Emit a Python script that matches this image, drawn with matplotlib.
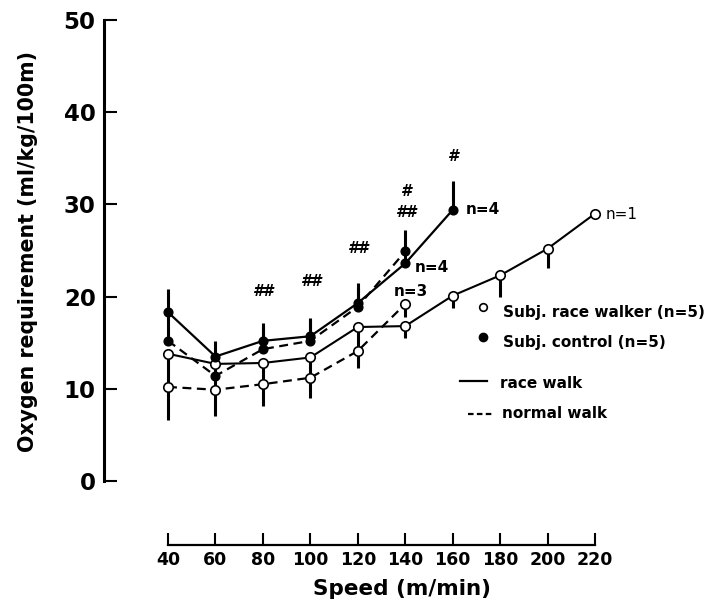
import matplotlib
matplotlib.use("Agg")
import matplotlib.pyplot as plt
from matplotlib.lines import Line2D

plt.rcParams['font.family'] = ['DejaVu Sans']
plt.rcParams['font.weight'] = 'bold'

speed = [40, 60, 80, 100, 120, 140, 160, 180, 200, 220]

# race walkers, race walk (open circles, solid line), bars go down
walker_race = [13.8, 12.7, 12.8, 13.4, 16.7, 16.8, 20.1, 22.3, 25.2, 29.0]
walker_race_sd = [3.6, 2.9, 2.3, 2.2, 2.6, 1.3, 1.3, 2.3, 2.1, 0.0]
# race walkers, normal walk (open circles, dashed line)
walker_normal = [10.2, 9.9, 10.5, 11.2, 14.1, 19.2]
walker_normal_sd = [3.6, 2.9, 2.4, 2.2, 1.8, 1.4]
# controls, race walk (filled, solid), bars go up
control_race = [18.3, 13.5, 15.2, 15.7, 19.3, 23.6, 29.4]
control_race_sd = [2.5, 1.7, 1.9, 2.0, 2.2, 2.0, 3.1]
# controls, normal walk (filled, dashed)
control_normal = [15.2, 11.4, 14.3, 15.2, 18.9, 24.9]
control_normal_sd = [3.1, 1.5, 2.3, 2.3, 2.0, 2.3]

# significance marks
hash_x = [80, 100, 120, 140, 140, 160]
hash_y = [20.6, 21.6, 25.2, 29.1, 31.4, 35.2]
hash_txt = ['##', '##', '##', '##', '#', '#']

# n labels
n_x = [165.6, 144.1, 135.3, 224.6]
n_y = [29.4, 23.2, 20.5, 28.9]
n_txt = ['n=4', 'n=4', 'n=3', 'n=1']

W, H = 714, 606
fig = plt.figure(figsize=(W / 100, H / 100), dpi=100)
ax = fig.add_axes([104 / W, (H - 545) / H, 596 / W, 530 / H])


def fpx(x, y):
    return x / W, 1 - y / H


dash = (0, (4, 2.5))

# error bars
n = len(walker_race)
ax.vlines(speed[:n], [v - e for v, e in zip(walker_race, walker_race_sd)], walker_race,
          color='black', lw=2.2, zorder=2)
n = len(walker_normal)
ax.vlines(speed[:n], [v - e for v, e in zip(walker_normal, walker_normal_sd)], walker_normal,
          color='black', lw=2.2, zorder=2)
n = len(control_race)
ax.vlines(speed[:n], control_race, [v + e for v, e in zip(control_race, control_race_sd)],
          color='black', lw=2.2, zorder=2)
n = len(control_normal)
ax.vlines(speed[:n], control_normal, [v + e for v, e in zip(control_normal, control_normal_sd)],
          color='black', lw=2.2, zorder=2)

# lines
ax.plot(speed[:len(walker_race)], walker_race, color='black', lw=1.5,
        marker='o', ms=6.8, mfc='white', mec='black', mew=1.2, zorder=3)
ax.plot(speed[:len(walker_normal)], walker_normal, color='black', lw=1.6, ls=dash,
        marker='o', ms=6.8, mfc='white', mec='black', mew=1.2, zorder=3)
ax.plot(speed[:len(control_race)], control_race, color='black', lw=1.6,
        marker='o', ms=6.3, mfc='black', mec='black', zorder=4)
ax.plot(speed[:len(control_normal)], control_normal, color='black', lw=1.6, ls=dash,
        marker='o', ms=6.3, mfc='black', mec='black', zorder=4)

for x, y, t in zip(hash_x, hash_y, hash_txt):
    ax.text(x, y, t, ha='center', va='center', fontsize=11, fontstyle='oblique',
            fontweight='bold')

for x, y, t in zip(n_x, n_y, n_txt):
    ax.text(x, y, t, ha='left', va='center', fontsize=11,
            fontweight='normal' if t == 'n=1' else 'bold')

ax.set_xlim(13, 13 + 596 / 2.372)
ax.set_ylim(-(545 - 481) / 9.22, 50 + 5 / 9.22)

for s in ['top', 'right']:
    ax.spines[s].set_visible(False)
ax.spines['left'].set_bounds(0, 50)
ax.spines['left'].set_linewidth(2.2)
ax.spines['bottom'].set_bounds(40, 220)
ax.spines['bottom'].set_linewidth(1.6)

ax.set_xticks(speed)
ax.set_yticks([0, 10, 20, 30, 40, 50])
ax.tick_params(axis='y', direction='in', length=9, width=1.5, pad=6, labelsize=16.5)
ax.tick_params(axis='x', direction='in', length=9, width=1.5, pad=4, labelsize=12.5)

ax.set_xlabel('Speed (m/min)', fontsize=15.5, fontweight='bold')
ax.xaxis.set_label_coords((402 - 104) / 596, (545 - 579) / 530)
ax.set_ylabel('Oxygen requirement (ml/kg/100m)', fontsize=14.8, fontweight='bold')
ax.yaxis.set_label_coords((38 - 104) / 596, (545 - 252) / 530)

# legend
fig.add_artist(Line2D(*zip(fpx(483, 307)), marker='o', ms=5.5, mfc='white', mec='black',
                      mew=1.2, ls='none', transform=fig.transFigure))
fig.text(*fpx(503, 313), 'Subj. race walker (n=5)', fontsize=11, va='center', ha='left')
fig.add_artist(Line2D(*zip(fpx(483, 337)), marker='o', ms=6, mfc='black', mec='black',
                      ls='none', transform=fig.transFigure))
fig.text(*fpx(503, 343), 'Subj. control (n=5)', fontsize=11, va='center', ha='left')
fig.add_artist(Line2D(*zip(fpx(460, 381), fpx(487, 381)), color='black', lw=1.6,
                      transform=fig.transFigure))
fig.text(*fpx(500, 384), 'race walk', fontsize=11, va='center', ha='left')
fig.add_artist(Line2D(*zip(fpx(468, 414), fpx(493, 414)), color='black', lw=1.6, ls=(0, (2.5, 1.5)),
                      transform=fig.transFigure))
fig.text(*fpx(502, 414), 'normal walk', fontsize=11, va='center', ha='left')

fig.savefig('out.png', dpi=100)
